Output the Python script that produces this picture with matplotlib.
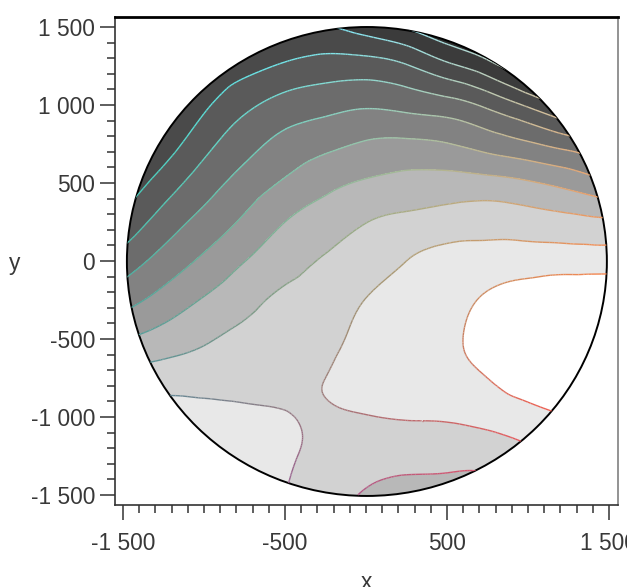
import matplotlib
matplotlib.use("Agg")
import matplotlib.pyplot as plt
import matplotlib.tri as mtri
from matplotlib.patches import Ellipse
from matplotlib.collections import LineCollection
import numpy as np

# grid of field values (contour level index)
xs = [-1500, -1250, -1000, -750, -500, -250, 0, 250, 500, 750, 1000, 1250, 1500]
ys = [1500, 1250, 1000, 750, 500, 250, 0, -250, -500, -750, -1000, -1250, -1500]

# one list per x column, top (y=1500) to bottom (y=-1500)
z_cols = [
    [-1.2, -0.5, 0.4, 1.33, 2.26, 3.26, 4.44, 5.61, 6.96, 8.38, 9.3, 9.5, 9.6],
    [-0.5, 0.4, 1.4, 2.42, 3.45, 4.43, 5.37, 6.36, 7.43, 8.53, 9.4, 9.6, 9.7],
    [0.9, 1.86, 2.79, 3.68, 4.52, 5.34, 6.19, 7.08, 7.88, 8.6, 9.3, 9.55, 9.65],
    [1.54, 2.64, 3.76, 4.62, 5.39, 6.17, 6.98, 7.69, 8.25, 8.69, 9.15, 9.35, 9.45],
    [1.8, 3.14, 4.38, 5.31, 6.13, 7.0, 7.61, 8.2, 8.46, 8.74, 9.05, 9.1, 9.0],
    [2.05, 3.43, 4.68, 5.74, 6.73, 7.5, 8.1, 8.5, 8.78, 9.0, 8.9, 8.75, 8.5],
    [1.55, 3.45, 4.88, 6.1, 7.11, 7.98, 8.52, 9.02, 9.2, 9.25, 8.97, 8.43, 7.9],
    [0.9, 3.08, 4.7, 6.2, 7.32, 8.25, 9.0, 9.3, 9.4, 9.35, 9.05, 8.33, 7.7],
    [0.1, 2.24, 4.42, 6.04, 7.41, 8.45, 9.35, 9.6, 9.75, 9.65, 9.1, 8.32, 7.6],
    [-0.5, 1.37, 3.8, 5.6, 7.35, 8.58, 9.45, 10.14, 10.4, 10.0, 9.3, 8.37, 7.6],
    [-1.0, 0.1, 2.85, 5.14, 7.11, 8.47, 9.54, 10.48, 10.9, 10.6, 9.6, 8.8, 8.0],
    [-1.5, -0.8, 1.67, 4.59, 6.69, 8.32, 9.55, 10.7, 11.0, 10.8, 10.0, 9.1, 8.3],
    [-2.0, -1.0, 0.0, 3.77, 6.13, 8.2, 9.52, 10.85, 11.1, 10.9, 10.2, 9.2, 8.4],
]

# a few extra samples around the saddle and the white core
extra_x = [-272, -414, -340, 599]
extra_y = [-827, -1038, -929, -506]
extra_z = [9.0, 9.0, 8.9, 10.0]

levels = [-10, 1, 2, 3, 4, 5, 6, 7, 8, 9, 10, 20]
fills = ['#2c2c2c', '#3b3b3b', '#4a4a4a', '#5a5a5a', '#6c6c6c', '#828282',
         '#9a9a9a', '#b8b8b8', '#d2d2d2', '#e8e8e8', '#ffffff']

xticks = [-1500, -500, 500, 1500]
xlabels = ['-1 500', '-500', '500', '1 500']
yticks = [-1500, -1000, -500, 0, 500, 1000, 1500]
ylabels = ['-1 500', '-1 000', '-500', '0', '500', '1 000', '1 500']

plt.rcParams['font.family'] = ['Liberation Sans', 'DejaVu Sans']

fig = plt.figure(figsize=(6.27, 5.87), dpi=100)
ax = fig.add_axes([0.1834, 0.1397, 0.8022, 0.8313])

gx, gy, gz = [], [], []
for i, x in enumerate(xs):
    for j, y in enumerate(ys):
        gx.append(x)
        gy.append(y)
        gz.append(z_cols[i][j])
gx = np.array(gx + extra_x, float)
gy = np.array(gy + extra_y, float)
gz = np.array(gz + extra_z, float)

tri = mtri.Triangulation(gx, gy)
interp = mtri.CubicTriInterpolator(tri, gz, kind='min_E')
refiner = mtri.UniformTriRefiner(tri)
tri_r, z_r = refiner.refine_field(gz, triinterpolator=interp, subdiv=4)

disk = Ellipse((6, -3), 2963, 3006, transform=ax.transData)

cf = ax.tricontourf(tri_r, z_r, levels=levels, colors=fills)
cf.set_clip_path(disk)

# contour lines, coloured along their length by position
cl = ax.tricontour(tri_r, z_r, levels=levels[1:-1])
segs = []
for p in cl.get_paths():
    for poly in p.to_polygons(closed_only=False):
        if len(poly) > 1:
            segs.append(np.stack([poly[:-1], poly[1:]], axis=1))
cl.remove()
segs = np.concatenate(segs)
mid = segs.mean(axis=1)
u = np.clip(mid[:, 0] / 1500, -1, 1)
v = np.clip(mid[:, 1] / 1500, -1, 1)
r = 160 + 85 * u - 20 * v
g = 160 + 72 * v - 22 * u
b = 125 - 42 * u + 55 * v + 65 * v ** 2
cols = np.clip(np.stack([r, g, b], axis=1) / 255, 0, 1)
lc = LineCollection(segs, colors=cols, linewidths=1.0)
ax.add_collection(lc)
lc.set_clip_path(disk)

ax.add_patch(Ellipse((6, -3), 2963, 3006, fill=False, edgecolor='black', lw=1.4))

ax.set_xlim(-1549, 1556)
ax.set_ylim(-1564, 1564)
ax.set_xticks(xticks)
ax.set_xticklabels(xlabels)
ax.set_yticks(yticks)
ax.set_yticklabels(ylabels)
ax.set_xticks(np.arange(-1500, 1501, 100), minor=True)
ax.set_yticks(np.arange(-1500, 1501, 100), minor=True)
ax.tick_params(which='major', length=10.8, width=1.1, color='#333333',
               labelsize=16.4, labelcolor='#383838')
ax.tick_params(which='minor', length=6.1, width=1.1, color='#333333')
ax.tick_params(axis='x', which='major', pad=8.5)
ax.tick_params(axis='y', which='major', pad=3.6)

ax.spines['top'].set_color('black')
ax.spines['top'].set_linewidth(2.0)
ax.spines['left'].set_color('#333333')
ax.spines['bottom'].set_color('#333333')
ax.spines['right'].set_color('#808080')
for s in ['left', 'bottom', 'right']:
    ax.spines[s].set_linewidth(1.2)

fig.text(366 / 627, 1 - 589 / 587, 'x', ha='center', va='baseline',
         fontsize=16.4, color='#383838')
fig.text(15 / 627, 1 - 270 / 587, 'y', ha='center', va='baseline',
         fontsize=16.4, color='#383838')

fig.savefig('out.png', dpi=100)
